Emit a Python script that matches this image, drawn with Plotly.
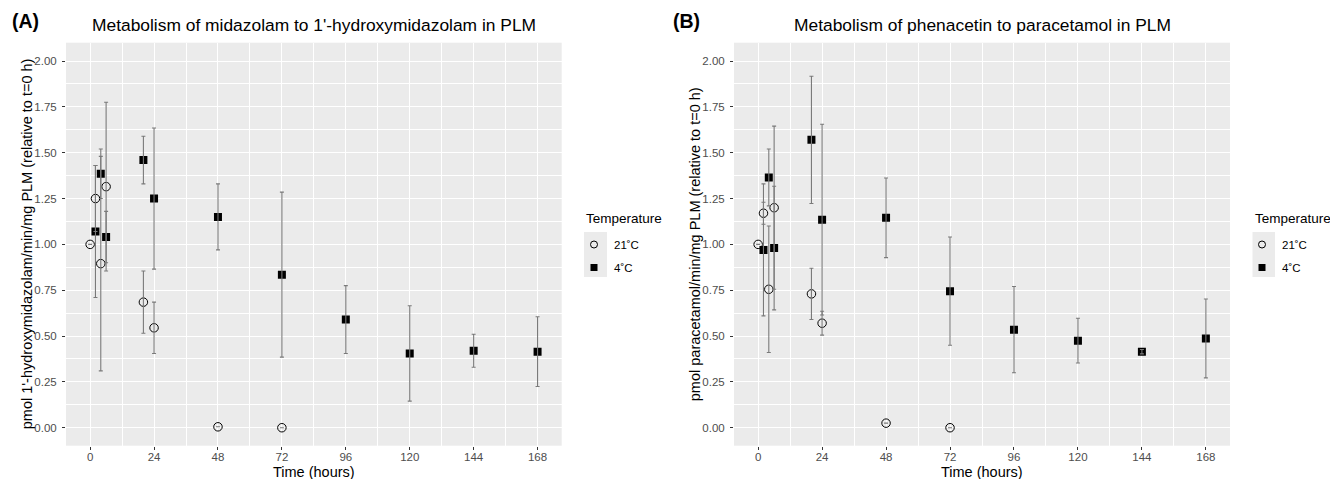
import plotly.graph_objects as go

# ---------------- data ----------------
# Panel A: midazolam -> 1'-hydroxymidazolam
a_t21 = [0, 2, 4, 6, 20, 24, 48, 72]
a_v21 = [1.00, 1.25, 0.895, 1.315, 0.685, 0.545, 0.005, 0.00]
a_e21 = [0, 0.18, 0.585, 0.46, 0.17, 0.14, 0, 0]
a_t4 = [2, 4, 6, 20, 24, 48, 72, 96, 120, 144, 168]
a_v4 = [1.07, 1.385, 1.04, 1.46, 1.25, 1.15, 0.835, 0.59, 0.405, 0.42, 0.415]
a_e4 = [0.36, 0.135, 0.14, 0.13, 0.385, 0.18, 0.45, 0.185, 0.26, 0.09, 0.19]

# Panel B: phenacetin -> paracetamol
b_t21 = [0, 2, 4, 6, 20, 24, 48, 72]
b_v21 = [1.00, 1.17, 0.755, 1.20, 0.73, 0.57, 0.025, 0.00]
b_e21 = [0, 0.06, 0.345, 0.445, 0.14, 0.065, 0, 0]
b_t4 = [2, 4, 6, 20, 24, 48, 72, 96, 120, 144, 168]
b_v4 = [0.97, 1.365, 0.98, 1.57, 1.135, 1.145, 0.745, 0.535, 0.475, 0.415, 0.487]
b_e4 = [0.36, 0.155, 0.337, 0.347, 0.52, 0.217, 0.295, 0.235, 0.122, 0.012, 0.215]

series_names = ["21˚C", "4˚C"]
x_ticks = [0, 24, 48, 72, 96, 120, 144, 168]
y_ticks = [0, 0.25, 0.5, 0.75, 1.0, 1.25, 1.5, 1.75, 2.0]

titles = ["Metabolism of midazolam to 1'-hydroxymidazolam in PLM",
          "Metabolism of phenacetin to paracetamol in PLM"]
ytitles = ["pmol 1'-hydroxymidazolam/min/mg PLM (relative to t=0 h)",
           "pmol paracetamol/min/mg PLM (relative to t=0 h)"]
panel_tags = ["(A)", "(B)"]
legend_title = "Temperature"

# ---------------- layout helpers ----------------
OFF = 8                      # page body margin of the html page
W, H = 1338 - OFF, 479 - OFF
FONT = "Liberation Sans, Arial, sans-serif"
ERR_COL = "#7a7a7a"

def px(x):
    """page x pixel -> paper fraction"""
    return (x - OFF) / W

def py(y):
    """page y pixel -> paper fraction"""
    return 1 - (y - OFF) / H

panels = [
    dict(xl=66, xr=561.7, legx=574, box=(584, 607), tagx=10, ytx=27,
         data=(a_t21, a_v21, a_e21, a_t4, a_v4, a_e4)),
    dict(xl=734, xr=1230, legx=1242, box=(1252.5, 1275), tagx=671, ytx=695,
         data=(b_t21, b_v21, b_e21, b_t4, b_v4, b_e4)),
]
plot_top, plot_bot = 42.7, 445.7

fig = go.Figure()
annotations = []
shapes = []

for i, p in enumerate(panels):
    xa = "x" if i == 0 else "x2"
    ya = "y" if i == 0 else "y2"
    leg = "legend" if i == 0 else "legend2"
    t21, v21, e21, t4, v4, e4 = p["data"]

    # markers
    fig.add_trace(go.Scatter(
        x=t21, y=v21, mode="markers", xaxis=xa, yaxis=ya, showlegend=False,
        marker=dict(symbol="circle-open", size=8.5, color="black",
                    line=dict(width=1, color="black")),
        name=series_names[0]))
    fig.add_trace(go.Scatter(
        x=t4, y=v4, mode="markers", xaxis=xa, yaxis=ya, showlegend=False,
        marker=dict(symbol="square", size=8, color="black"),
        name=series_names[1]))
    # error bars drawn on top of the markers
    for t, v, e in ((t21, v21, e21), (t4, v4, e4)):
        fig.add_trace(go.Scatter(
            x=t, y=v, mode="markers", xaxis=xa, yaxis=ya, showlegend=False,
            hoverinfo="skip",
            marker=dict(size=1, color="rgba(0,0,0,0)"),
            error_y=dict(type="data", array=e, visible=True, color=ERR_COL,
                         thickness=1.1, width=2)))
    # legend entries
    fig.add_trace(go.Scatter(
        x=[None], y=[None], mode="markers", xaxis=xa, yaxis=ya,
        name=series_names[0], legend=leg, legendgroup=f"g21_{i}",
        marker=dict(symbol="circle-open", size=7, color="black",
                    line=dict(width=1, color="black"))))
    fig.add_trace(go.Scatter(
        x=[None], y=[None], mode="markers", xaxis=xa, yaxis=ya,
        name=series_names[1], legend=leg, legendgroup=f"g4_{i}",
        marker=dict(symbol="square", size=7, color="black")))

    # titles
    cx = (p["xl"] + p["xr"]) / 2
    annotations.append(dict(text=titles[i], x=px(cx), y=py(25), xref="paper", yref="paper",
                            xanchor="center", yanchor="middle", showarrow=False,
                            font=dict(size=17.4, color="black", family=FONT)))
    annotations.append(dict(text="<b>" + panel_tags[i] + "</b>", x=px(p["tagx"]), y=py(21),
                            xref="paper", yref="paper", xanchor="left", yanchor="middle",
                            showarrow=False, font=dict(size=19.5, color="black", family=FONT)))
    annotations.append(dict(text="Time (hours)", x=px(cx), y=py(471.5), xref="paper", yref="paper",
                            xanchor="center", yanchor="middle", showarrow=False,
                            font=dict(size=14.5, color="black", family=FONT)))
    annotations.append(dict(text=ytitles[i], x=px(p["ytx"]), y=py((plot_top + plot_bot) / 2),
                            xref="paper", yref="paper", xanchor="center", yanchor="middle",
                            textangle=-90, showarrow=False,
                            font=dict(size=14.5, color="black", family=FONT)))
    annotations.append(dict(text=legend_title, x=px(p["box"][0]), y=py(218),
                            xref="paper", yref="paper", xanchor="left", yanchor="middle",
                            showarrow=False, font=dict(size=13.5, color="black", family=FONT)))
    # grey legend key background
    shapes.append(dict(type="rect", xref="paper", yref="paper",
                       x0=px(p["box"][0]), x1=px(p["box"][1]), y0=py(277), y1=py(232),
                       fillcolor="#EBEBEB", line=dict(width=0), layer="below"))

axis_common = dict(
    showline=False, zeroline=False, ticks="outside", ticklen=3, tickwidth=1.1,
    tickcolor="#333333", tickfont=dict(size=11.5, color="#4D4D4D", family=FONT),
    showgrid=True, gridcolor="white", gridwidth=1.1,
)

for i, p in enumerate(panels):
    xd = [px(p["xl"]), px(p["xr"])]
    yd = [py(plot_bot), py(plot_top)]
    xkey = "xaxis" if i == 0 else "xaxis2"
    ykey = "yaxis" if i == 0 else "yaxis2"
    fig.layout[xkey] = dict(axis_common, domain=xd, range=[-9.06, 177.06],
                            tickmode="array", tickvals=x_ticks,
                            ticktext=[str(v) for v in x_ticks],
                            ticklabelstandoff=-3,
                            minor=dict(tickmode="array",
                                       tickvals=[12, 36, 60, 84, 108, 132, 156],
                                       showgrid=True, gridcolor="white", gridwidth=0.55,
                                       ticks=""),
                            anchor="y" if i == 0 else "y2")
    fig.layout[ykey] = dict(axis_common, domain=yd, range=[-0.098, 2.1],
                            tickmode="array", tickvals=y_ticks,
                            ticktext=[f"{v:.2f}" for v in y_ticks],
                            ticklabelstandoff=3,
                            minor=dict(tickmode="array",
                                       tickvals=[0.125, 0.375, 0.625, 0.875, 1.125,
                                                 1.375, 1.625, 1.875],
                                       showgrid=True, gridcolor="white", gridwidth=0.55,
                                       ticks=""),
                            anchor="x" if i == 0 else "x2")

legend_common = dict(
    xanchor="left", yanchor="top", bgcolor="rgba(0,0,0,0)", borderwidth=0,
    font=dict(size=11.5, color="black", family=FONT),
    tracegroupgap=4, itemsizing="trace",
)

fig.update_layout(
    width=W, height=H,
    margin=dict(l=0, r=0, t=0, b=0),
    paper_bgcolor="white", plot_bgcolor="#EBEBEB",
    font=dict(family=FONT),
    annotations=annotations,
    shapes=shapes,
    legend=dict(legend_common, x=px(panels[0]["legx"]), y=py(230)),
    legend2=dict(legend_common, x=px(panels[1]["legx"]), y=py(230)),
    hovermode="closest",
)

fig.write_html("out.html")
